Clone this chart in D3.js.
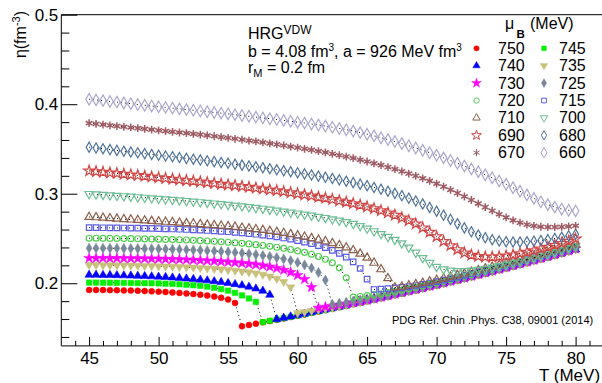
<!DOCTYPE html>
<html><head><meta charset="utf-8">
<script src="https://cdn.jsdelivr.net/npm/d3@7"></script>
<style>
body{margin:0;background:#fff;}
svg{display:block;font-family:"Liberation Sans",Arial,Helvetica,sans-serif;}
</style>
</head><body>
<svg id="chart" width="602" height="383"></svg>
<script>
// ---------------- data ----------------
const T = [45,45.5,46,46.5,47,47.5,48,48.5,49,49.5,50,50.5,51,51.5,52,52.5,53,53.5,54,54.5,
           55,55.5,56,56.5,57,57.5,58,58.5,59,59.5,60,60.5,61,61.5,62,62.5,63,63.5,64,64.5,
           65,65.5,66,66.5,67,67.5,68,68.5,69,69.5,70,70.5,71,71.5,72,72.5,73,73.5,74,74.5,
           75,75.5,76,76.5,77,77.5,78,78.5,79,79.5,80];

const muB = [750,745,740,735,730,725,720,715,710,700,690,680,670,660];

// upper branch (starts at T=45) and lower branch (ends at T=80)
const hi750 = [.1925,.1925,.1924,.1923,.1922,.1920,.1918,.1916,.1913,.1910,.1906,.1902,.1897,.1892,.1886,.1879,.1871,.1862,.1851,.1837,.1818,.1780];
const lo750 = [.1520,.1534,.1548,.1563,.1577,.1592,.1607,.1622,.1637,.1652,.1668,.1683,.1699,.1715,.1731,.1747,.1764,.1780,.1797,.1814,.1831,.1848,.1866,.1883,.1901,.1918,.1936,.1955,.1973,.1991,.2010,.2029,.2047,.2066,.2086,.2105,.2124,.2144,.2164,.2184,.2204,.2224,.2245,.2265,.2286,.2307,.2328,.2349,.2371];

const hi745 = [.2007,.2007,.2006,.2006,.2005,.2004,.2003,.2002,.2001,.2000,.1998,.1995,.1992,.1988,.1983,.1978,.1971,.1962,.1950,.1935,.1917,.1893,.1864,.1830,.1792];
const lo745 = [.1566,.1580,.1595,.1610,.1625,.1640,.1655,.1671,.1686,.1702,.1718,.1734,.1750,.1767,.1783,.1800,.1817,.1834,.1851,.1869,.1886,.1904,.1921,.1939,.1958,.1976,.1994,.2013,.2032,.2050,.2069,.2089,.2108,.2127,.2147,.2167,.2187,.2207,.2227,.2248,.2268,.2289,.2310,.2331,.2352,.2374];

const hi740 = [.2093,.2093,.2092,.2091,.2089,.2087,.2085,.2082,.2079,.2076,.2072,.2068,.2063,.2058,.2052,.2046,.2039,.2031,.2022,.2012,.2001,.1989,.1976,.1960,.1940,.1915,.1870];
const lo740 = [.1598,.1613,.1628,.1643,.1658,.1674,.1689,.1705,.1721,.1737,.1753,.1770,.1786,.1803,.1820,.1837,.1854,.1872,.1889,.1907,.1924,.1942,.1961,.1979,.1997,.2016,.2035,.2053,.2072,.2092,.2111,.2130,.2150,.2170,.2190,.2210,.2230,.2251,.2271,.2292,.2313,.2334,.2355,.2377];

const hi735 = [.2204,.2204,.2203,.2202,.2201,.2200,.2198,.2197,.2195,.2193,.2191,.2189,.2186,.2183,.2180,.2176,.2172,.2167,.2162,.2156,.2149,.2141,.2133,.2123,.2111,.2096,.2077,.2052,.2016,.1955];
const lo735 = [.1667,.1679,.1692,.1704,.1717,.1730,.1744,.1759,.1775,.1790,.1807,.1824,.1841,.1858,.1876,.1893,.1911,.1928,.1946,.1965,.1983,.2001,.2020,.2039,.2057,.2076,.2096,.2115,.2134,.2154,.2174,.2194,.2214,.2234,.2255,.2275,.2296,.2317,.2338,.2359,.2381];

const hi730 = [.2280,.2280,.2280,.2279,.2279,.2278,.2277,.2276,.2275,.2274,.2272,.2270,.2268,.2266,.2263,.2260,.2256,.2252,.2248,.2243,.2238,.2232,.2225,.2217,.2208,.2197,.2184,.2168,.2148,.2123,.2090,.2045,.1955];
const lo730 = [.1723,.1735,.1747,.1759,.1771,.1784,.1798,.1813,.1829,.1846,.1863,.1881,.1898,.1916,.1933,.1951,.1970,.1988,.2006,.2025,.2044,.2062,.2081,.2101,.2120,.2139,.2159,.2179,.2199,.2219,.2239,.2260,.2280,.2301,.2322,.2343,.2364,.2386];

const hi725 = [.2391,.2391,.2391,.2390,.2390,.2389,.2388,.2387,.2386,.2385,.2383,.2381,.2379,.2377,.2374,.2371,.2368,.2364,.2360,.2355,.2350,.2344,.2337,.2329,.2320,.2310,.2299,.2286,.2271,.2253,.2232,.2205,.2170,.2120,.2035];
const lo725 = [.1765,.1776,.1787,.1799,.1810,.1824,.1838,.1853,.1868,.1886,.1903,.1921,.1938,.1956,.1975,.1993,.2011,.2030,.2049,.2067,.2086,.2106,.2125,.2144,.2164,.2184,.2204,.2224,.2244,.2265,.2285,.2306,.2327,.2348,.2369,.2391];

const hi720 = [.2503,.2503,.2502,.2501,.2500,.2499,.2498,.2497,.2495,.2494,.2492,.2490,.2488,.2486,.2483,.2480,.2476,.2472,.2468,.2463,.2458,.2452,.2446,.2439,.2431,.2422,.2413,.2402,.2390,.2377,.2362,.2345,.2324,.2299,.2268,.2228,.2172,.2060];
const lo720 = [.1844,.1852,.1862,.1872,.1883,.1895,.1909,.1923,.1938,.1953,.1969,.1987,.2003,.2021,.2040,.2059,.2077,.2096,.2116,.2135,.2154,.2174,.2194,.2214,.2234,.2254,.2275,.2295,.2316,.2337,.2358,.2379,.2401];

const hi715 = [.2621,.2621,.2620,.2619,.2618,.2617,.2616,.2615,.2613,.2612,.2610,.2608,.2606,.2603,.2600,.2597,.2593,.2589,.2585,.2580,.2575,.2569,.2562,.2555,.2547,.2538,.2528,.2517,.2505,.2492,.2477,.2460,.2442,.2421,.2397,.2368,.2334,.2292,.2238,.2165,.2045];
const lo715 = [.1930,.1934,.1939,.1945,.1953,.1963,.1975,.1988,.2003,.2018,.2034,.2051,.2069,.2087,.2106,.2126,.2145,.2164,.2184,.2204,.2224,.2244,.2264,.2285,.2305,.2326,.2347,.2368,.2389,.2411];

const hi710 = [.2740,.2736,.2731,.2726,.2721,.2716,.2711,.2706,.2701,.2696,.2691,.2686,.2681,.2676,.2671,.2666,.2660,.2654,.2648,.2642,.2636,.2630,.2620,.2612,.2603,.2594,.2584,.2573,.2561,.2548,.2534,.2519,.2503,.2486,.2468,.2448,.2425,.2399,.2368,.2330,.2285,.2228,.2155,.2055];
const lo710 = [.1952,.1962,.1975,.1989,.2004,.2020,.2037,.2054,.2072,.2090,.2108,.2126,.2146,.2165,.2184,.2204,.2224,.2244,.2264,.2284,.2305,.2325,.2346,.2367,.2388,.2409,.2431];

const hi700 = [.2998,.2993,.2988,.2983,.2978,.2973,.2968,.2962,.2956,.2950,
               .2944,.2938,.2932,.2926,.2920,.2913,.2906,.2899,.2892,.2884,
               .2876,.2868,.2860,.2851,.2842,.2833,.2823,.2813,.2802,.2791,
               .2780,.2768,.2756,.2743,.2730,.2715,.2700,.2683,.2665,.2640,
               .2612,.2582,.2550,.2518,.2485,.2446,.2400,.2342,.2282,.2228,
               .2183,.2155,.2142,.2137,.2137,.2141,.2150,.2162,.2176,.2192,
               .2210,.2228,.2247,.2266,.2286,.2306,.2327,.2349,.2372,.2396,.2420];
const hi690 = [.3255,.3248,.3241,.3234,.3227,.3220,.3212,.3204,.3196,.3188,
               .3180,.3172,.3164,.3156,.3148,.3140,.3132,.3124,.3116,.3108,
               .3100,.3091,.3082,.3073,.3064,.3054,.3044,.3034,.3023,.3012,
               .3000,.2988,.2976,.2963,.2950,.2936,.2921,.2906,.2890,.2872,
               .2853,.2833,.2811,.2787,.2760,.2731,.2700,.2663,.2620,.2572,
               .2520,.2468,.2420,.2377,.2340,.2314,.2300,.2294,.2293,.2297,
               .2306,.2318,.2332,.2348,.2365,.2384,.2404,.2425,.2447,.2470,.2495];
const hi680 = [.3520,.3511,.3502,.3493,.3484,.3475,.3466,.3457,.3448,.3439,
               .3430,.3421,.3413,.3404,.3395,.3386,.3377,.3368,.3359,.3349,
               .3340,.3330,.3320,.3310,.3300,.3290,.3279,.3268,.3257,.3246,
               .3234,.3222,.3210,.3197,.3184,.3170,.3155,.3140,.3124,.3107,
               .3089,.3070,.3050,.3028,.3004,.2978,.2950,.2919,.2885,.2847,
               .2805,.2760,.2713,.2665,.2618,.2575,.2538,.2508,.2486,.2472,
               .2464,.2461,.2461,.2464,.2470,.2478,.2488,.2500,.2514,.2530,.2548];
const hi670 = [.3788,.3780,.3772,.3764,.3756,.3748,.3740,.3732,.3724,.3716,
               .3708,.3700,.3692,.3684,.3676,.3668,.3660,.3651,.3642,.3633,
               .3624,.3614,.3604,.3594,.3584,.3573,.3562,.3551,.3539,.3527,
               .3515,.3502,.3489,.3475,.3461,.3446,.3430,.3414,.3397,.3379,
               .3360,.3340,.3319,.3297,.3274,.3250,.3225,.3199,.3172,.3143,
               .3112,.3079,.3044,.3007,.2969,.2930,.2890,.2850,.2810,.2771,
               .2735,.2703,.2676,.2655,.2640,.2631,.2627,.2627,.2630,.2635,.2642];
const hi660 = [.4056,.4048,.4040,.4031,.4023,.4014,.4006,.3997,.3989,.3980,
               .3972,.3964,.3956,.3948,.3940,.3932,.3924,.3916,.3908,.3900,
               .3892,.3883,.3874,.3865,.3856,.3847,.3838,.3829,.3819,.3809,
               .3799,.3789,.3779,.3768,.3756,.3743,.3729,.3715,.3700,.3683,
               .3665,.3646,.3626,.3605,.3583,.3560,.3536,.3511,.3485,.3458,
               .3430,.3401,.3371,.3340,.3309,.3277,.3245,.3212,.3178,.3143,
               .3106,.3067,.3027,.2987,.2948,.2911,.2878,.2850,.2829,.2815,.2808];

const xMajorTicks = [45,50,55,60,65,70,75,80];
const xMinorTicks = [44,46,47,48,49,51,52,53,54,56,57,58,59,61,62,63,64,66,67,68,69,71,72,73,74,76,77,78,79,81];
const yMajorTicks = [0.2,0.3,0.4,0.5];
const yMinorTicks = [0.14,0.16,0.18,0.22,0.24,0.26,0.28,0.32,0.34,0.36,0.38,0.42,0.44,0.46,0.48];

// ---------------- styles ----------------
const branches = {
  750:[hi750,lo750],745:[hi745,lo745],740:[hi740,lo740],735:[hi735,lo735],730:[hi730,lo730],
  725:[hi725,lo725],720:[hi720,lo720],715:[hi715,lo715],710:[hi710,lo710],
  700:[hi700,[]],690:[hi690,[]],680:[hi680,[]],670:[hi670,[]],660:[hi660,[]]
};
const style = {
  750:{c:"#ff0000",s:"circle",f:true},
  745:{c:"#00f000",s:"square",f:true},
  740:{c:"#0000ff",s:"tri",f:true},
  735:{c:"#c9c07a",s:"triDown",f:true},
  730:{c:"#ff00ff",s:"star",f:true},
  725:{c:"#78879a",s:"diamond",f:true},
  720:{c:"#4fcf4f",s:"circle",f:false},
  715:{c:"#5a5ae6",s:"square",f:false},
  710:{c:"#8c5f4b",s:"tri",f:false},
  700:{c:"#6ebf96",s:"triDown",f:false},
  690:{c:"#d24646",s:"star",f:false},
  680:{c:"#50739a",s:"diamond",f:false},
  670:{c:"#a05a64",s:"asterisk",f:false},
  660:{c:"#aba6cf",s:"diamondW",f:false}
};
const symPath = {
  circle: d3.symbol(d3.symbolCircle, 28)(),
  square: d3.symbol(d3.symbolSquare, 30)(),
  tri: d3.symbol(d3.symbolTriangle, 30)(),
  triDown: d3.symbol(d3.symbolTriangle, 30)(),
  star: d3.symbol(d3.symbolStar, 36)(),
  diamond: d3.symbol(d3.symbolDiamond, 30)(),
  asterisk: d3.symbol(d3.symbolAsterisk, 42)(),
  diamondW: d3.symbol(d3.symbolDiamond, 38)()
};
const strokeW = s => s.f ? 0.5 : (s.s === "asterisk" ? 1.5 : 1.2);

// ---------------- drawing ----------------
const svg = d3.select("#chart");
const x = d3.scaleLinear().domain([43, 82]).range([61.3, 603.4]);
const y = d3.scaleLinear().domain([0.13, 0.5]).range([345.9, 14.7]);

const plot = svg.append("g");
const line = d3.line().x(d => x(d.t)).y(d => y(d.v));

muB.forEach(m => {
  const [hi, lo] = branches[m];
  const pts = hi.map((v,i) => ({t:T[i], v}))
     .concat(lo.map((v,j) => ({t:T[T.length - lo.length + j], v})));
  const st = style[m];
  plot.append("path").datum(pts).attr("d", line)
    .attr("fill","none").attr("stroke","#000").attr("stroke-width",1)
    .attr("stroke-dasharray","1,3");
  plot.append("g").selectAll("path").data(pts).join("path")
    .attr("d", symPath[st.s])
    .attr("transform", d => `translate(${x(d.t)},${y(d.v)})` + (st.s==="triDown"?" rotate(180)":""))
    .attr("fill", st.f ? st.c : "none")
    .attr("stroke", st.c)
    .attr("stroke-width", strokeW(st));
});

// frame
const fr = svg.append("g").attr("stroke","#000").attr("stroke-width",1).attr("fill","none");
fr.append("line").attr("x1",x(43)).attr("x2",x(82)).attr("y1",y(0.5)).attr("y2",y(0.5));
fr.append("line").attr("x1",x(43)).attr("x2",x(82)).attr("y1",y(0.13)).attr("y2",y(0.13));
fr.append("line").attr("x1",x(43)).attr("x2",x(43)).attr("y1",y(0.13)).attr("y2",y(0.5));

// axes
function styleAxis(g){ g.select(".domain").remove(); g.selectAll("text").attr("font-family",'"Liberation Sans",Arial,sans-serif').attr("font-size",17).attr("fill","#000"); g.selectAll("line").attr("stroke","#000"); }
svg.append("g").attr("transform",`translate(${x(43)},0)`)
  .call(d3.axisLeft(y).tickValues(yMajorTicks).tickSize(-16).tickPadding(3).tickFormat(d3.format(".1f"))).call(styleAxis);
svg.append("g").attr("transform",`translate(${x(43)},0)`)
  .call(d3.axisLeft(y).tickValues(yMinorTicks).tickSize(-8).tickFormat("")).call(styleAxis);
svg.append("g").attr("transform",`translate(0,${y(0.13)})`)
  .call(d3.axisBottom(x).tickValues(xMajorTicks).tickSize(-9).tickPadding(6).tickFormat(d3.format("d"))).call(styleAxis);
svg.append("g").attr("transform",`translate(0,${y(0.13)})`)
  .call(d3.axisBottom(x).tickValues(xMinorTicks).tickSize(-5).tickFormat("")).call(styleAxis);

// axis titles
const yt = svg.append("text").attr("transform","translate(26,11) rotate(-90)")
  .attr("text-anchor","end").attr("font-size",16);
yt.append("tspan").text("η(fm");
yt.append("tspan").attr("font-size",11).attr("dy",-6).text("-3");
yt.append("tspan").attr("dy",6).text(")");
svg.append("text").attr("x",539).attr("y",381).attr("font-size",17).text("T (MeV)");

// annotation texts
const t1 = svg.append("text").attr("x",248).attr("y",39).attr("font-size",16);
t1.append("tspan").text("HRG");
t1.append("tspan").attr("font-size",12).attr("dy",-5.5).text("VDW");
const t2 = svg.append("text").attr("x",248).attr("y",57).attr("font-size",16);
t2.append("tspan").text("b = 4.08 fm");
t2.append("tspan").attr("font-size",10).attr("dy",-6).text("3");
t2.append("tspan").attr("dy",6).text(", a = 926 MeV fm");
t2.append("tspan").attr("font-size",10).attr("dy",-6).text("3");
const t3 = svg.append("text").attr("x",248).attr("y",72.5).attr("font-size",16);
t3.append("tspan").text("r");
t3.append("tspan").attr("font-size",11).attr("dy",4).text("M");
t3.append("tspan").attr("dy",-4).text(" = 0.2 fm");
svg.append("text").attr("x",392).attr("y",323.5).attr("font-size",11).text("PDG Ref. Chin .Phys. C38, 09001 (2014)");

// legend
svg.append("text").attr("x",505).attr("y",29).attr("font-size",16).text("μ");
svg.append("text").attr("x",516.5).attr("y",38).attr("font-size",11.5).attr("font-weight","bold").text("B");
svg.append("text").attr("x",530).attr("y",29).attr("font-size",16).text("(MeV)");
const legCols = [476.5, 544];
const legTextX = [498, 559];
const legSym = {
  circle: d3.symbol(d3.symbolCircle, 22)(), square: d3.symbol(d3.symbolSquare, 22)(),
  tri: d3.symbol(d3.symbolTriangle, 24)(), triDown: d3.symbol(d3.symbolTriangle, 24)(),
  star: d3.symbol(d3.symbolStar, 30)(), diamond: d3.symbol(d3.symbolDiamond, 24)(),
  asterisk: d3.symbol(d3.symbolAsterisk, 34)(), diamondW: d3.symbol(d3.symbolDiamond, 30)()
};
muB.forEach((m,k) => {
  const col = k % 2, row = Math.floor(k/2);
  const cy = 48.3 + row*17.4;
  const st = style[m];
  svg.append("path").attr("d", legSym[st.s])
    .attr("transform", `translate(${legCols[col]},${cy})` + (st.s==="triDown"?" rotate(180)":""))
    .attr("fill", st.f ? st.c : "none").attr("stroke", st.c).attr("stroke-width", st.f?0.4:1);
  svg.append("text").attr("x",legTextX[col]).attr("y",cy+5.5).attr("font-size",16).text(m);
});
</script>
</body></html>
